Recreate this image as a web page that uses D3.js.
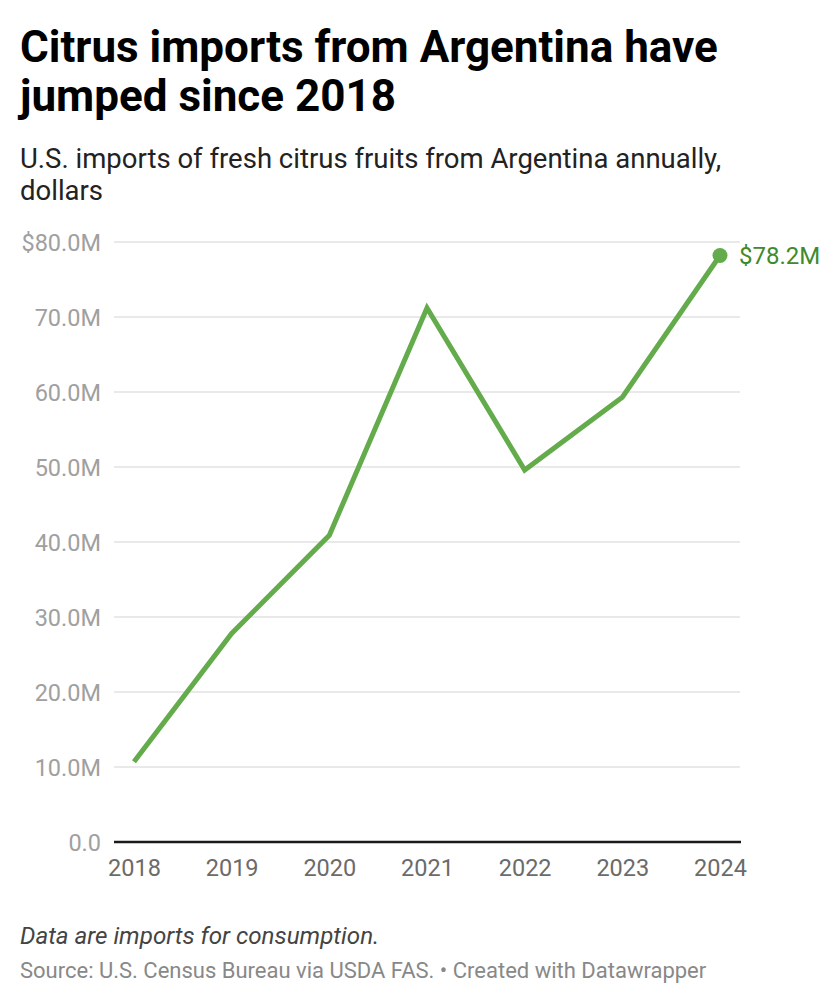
<!DOCTYPE html>
<html>
<head>
<meta charset="utf-8">
<script src="https://cdn.jsdelivr.net/npm/d3@7"></script>
<style>
  body { margin: 0; background: #fff; }
  svg { display: block; font-family: Roboto, 'Noto Sans', sans-serif; }
</style>
</head>
<body>
<div id="chart"></div>
<script>
// data
const years = [2018, 2019, 2020, 2021, 2022, 2023, 2024];
const imports = [10.7, 27.8, 40.9, 71.2, 49.6, 59.3, 78.2]; // millions of dollars
const yTicks = [0, 10, 20, 30, 40, 50, 60, 70, 80];

const W = 840, H = 1006;
const margin = { left: 114, right: 100, top: 242, bottom: 164 };

const svg = d3.select('#chart').append('svg')
  .attr('width', W)
  .attr('height', H);

// header
svg.append('text').attr('x', 20).attr('y', 62)
  .attr('font-size', 44).attr('font-weight', 'bold').attr('fill', '#000')
  .text('Citrus imports from Argentina have');
svg.append('text').attr('x', 20).attr('y', 111)
  .attr('font-size', 44).attr('font-weight', 'bold').attr('fill', '#000')
  .text('jumped since 2018');
svg.append('text').attr('x', 20).attr('y', 168)
  .attr('font-size', 27.5).attr('fill', '#222')
  .text('U.S. imports of fresh citrus fruits from Argentina annually,');
svg.append('text').attr('x', 20).attr('y', 200)
  .attr('font-size', 27.5).attr('fill', '#222')
  .text('dollars');

const x = d3.scalePoint()
  .domain(years)
  .range([134, 720]);

const y = d3.scaleLinear()
  .domain([0, 80])
  .range([842, 242]);

// gridlines
const grid = svg.append('g');
grid.selectAll('line').data(yTicks.filter(d => d > 0)).enter().append('line')
  .attr('x1', margin.left).attr('x2', 740)
  .attr('y1', d => y(d)).attr('y2', d => y(d))
  .attr('stroke', '#e2e2e2').attr('stroke-width', 1.5);

// y axis labels
const yAxis = d3.axisLeft(y)
  .tickValues(yTicks)
  .tickSize(0)
  .tickPadding(0)
  .tickFormat(d => d === 0 ? '0.0' : (d === 80 ? '$' : '') + d.toFixed(1) + 'M');
svg.append('g')
  .attr('transform', 'translate(101,0)')
  .call(yAxis)
  .call(g => g.select('.domain').remove())
  .call(g => g.selectAll('text')
    .attr('font-size', 23.5).attr('fill', '#a0a0a0')
    .attr('font-family', 'Roboto, sans-serif').attr('dy', '0.35em'));

// baseline
svg.append('line')
  .attr('x1', margin.left).attr('x2', 741)
  .attr('y1', y(0)).attr('y2', y(0))
  .attr('stroke', '#1a1a1a').attr('stroke-width', 2.5);

// x axis labels
const xAxis = d3.axisBottom(x).tickSize(0).tickPadding(0);
svg.append('g')
  .attr('transform', `translate(0,${y(0)})`)
  .call(xAxis)
  .call(g => g.select('.domain').remove())
  .call(g => g.selectAll('text')
    .attr('font-size', 23.5).attr('fill', '#6b6b6b')
    .attr('font-family', 'Roboto, sans-serif').attr('dy', '1.45em'));

// line
const data = years.map((yr, i) => ({ year: yr, value: imports[i] }));
const line = d3.line()
  .x(d => x(d.year))
  .y(d => y(d.value));

svg.append('path')
  .datum(data)
  .attr('d', line)
  .attr('fill', 'none')
  .attr('stroke', '#63ab4b')
  .attr('stroke-width', 5)
  .attr('stroke-linejoin', 'miter')
  .attr('stroke-linecap', 'butt');

const last = data[data.length - 1];
svg.append('circle')
  .attr('cx', x(last.year)).attr('cy', y(last.value))
  .attr('r', 7.5).attr('fill', '#63ab4b');
svg.append('text')
  .attr('x', x(last.year) + 19).attr('y', y(last.value))
  .attr('dy', '0.35em')
  .attr('font-size', 24).attr('fill', '#3e8a2c')
  .text('$' + last.value.toFixed(1) + 'M');

// footer
svg.append('text').attr('x', 20).attr('y', 944)
  .attr('font-size', 24.2).attr('font-style', 'italic').attr('fill', '#444')
  .text('Data are imports for consumption.');
svg.append('text').attr('x', 20).attr('y', 978)
  .attr('font-size', 22).attr('fill', '#888')
  .text('Source: U.S. Census Bureau via USDA FAS. • Created with Datawrapper');
</script>
</body>
</html>
